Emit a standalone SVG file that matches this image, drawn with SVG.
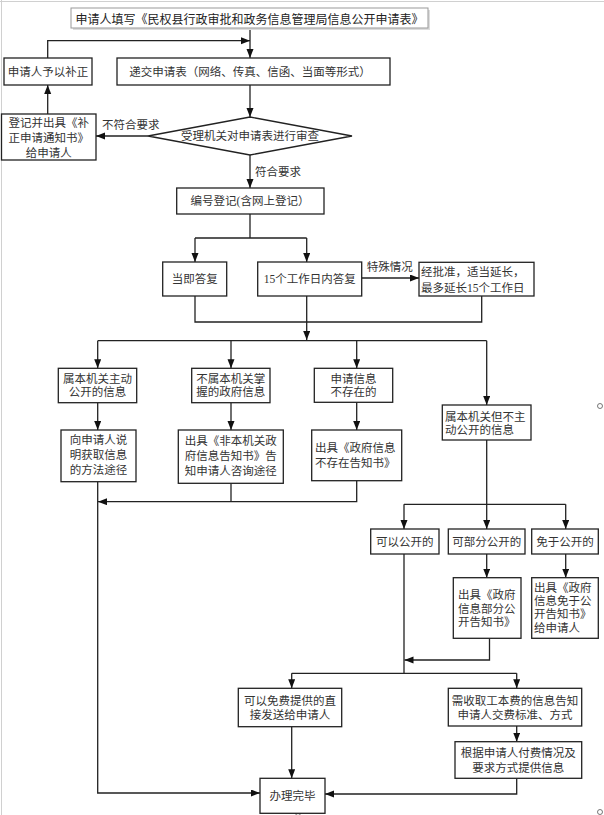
<svg xmlns="http://www.w3.org/2000/svg" width="604" height="815" viewBox="0 0 604 815">
<defs>
<marker id="ah" markerUnits="userSpaceOnUse" markerWidth="10" markerHeight="8" refX="9" refY="3.5" orient="auto">
<path d="M0,0 L9,3.5 L0,7 z" fill="#111"/>
</marker>
<style>
.b{fill:#fff;stroke:#222;stroke-width:1.3}
.t{font-family:"Liberation Serif","Noto Sans CJK SC",serif;font-size:11.5px;fill:#333;dominant-baseline:central}
.c{text-anchor:middle}
.l{fill:none;stroke:#222;stroke-width:1.3}
.a{fill:none;stroke:#222;stroke-width:1.3;marker-end:url(#ah)}
.h{fill:#fff;stroke:#555;stroke-width:0.8}
</style>
</defs>
<rect width="604" height="815" fill="#fff"/>
<g id="frame">
<path d="M1.5,0 V815 M0,1.5 H604" stroke="#d0d0d0" stroke-width="1" fill="none"/>
<circle class="h" cx="600" cy="406" r="2.5"/>
<circle class="h" cx="600" cy="812" r="2.5"/>
<circle class="h" cx="298" cy="813" r="2.5"/>
</g>
<g id="connectors">
<path class="a" d="M250,28 V58"/>
<path class="a" d="M47.7,58 V40.7 H250"/>
<path class="a" d="M250,85 V117"/>
<path class="a" d="M148,136 H96"/>
<path class="a" d="M47.7,114 V85"/>
<path class="a" d="M250,155 V188"/>
<path class="l" d="M250,214 V238 M195,238 H306.7"/>
<path class="a" d="M195,238 V262"/>
<path class="a" d="M306.7,238 V262"/>
<path class="a" d="M361.7,278 H419"/>
<path class="l" d="M195,296 V322 H481.7 V296"/>
<path class="a" d="M306.7,296 V340"/>
<path class="l" d="M97.7,340.7 H486.7"/>
<path class="a" d="M97.7,340.7 V368.3"/>
<path class="a" d="M231,340.7 V368.3"/>
<path class="a" d="M356.7,340.7 V368.3"/>
<path class="a" d="M486.7,340.7 V405"/>
<path class="a" d="M97.7,402.7 V430"/>
<path class="a" d="M231,402.7 V430"/>
<path class="a" d="M356.7,402.3 V430"/>
<path class="l" d="M231,483.3 V501.7"/>
<path class="a" d="M356.7,480.7 V501.7 H98"/>
<path class="a" d="M97.7,481.7 V793 H260"/>
<path class="a" d="M486.7,440 V529"/>
<path class="l" d="M404,504.3 H565.7"/>
<path class="a" d="M404,504.3 V529"/>
<path class="a" d="M565.7,504.3 V529"/>
<path class="a" d="M486.7,554 V577.7"/>
<path class="a" d="M565.7,554 V577.7"/>
<path class="l" d="M404,554 V673.3 M291.7,673.3 H516.7"/>
<path class="a" d="M291.7,673.3 V688.3"/>
<path class="a" d="M516.7,673.3 V688.3"/>
<path class="a" d="M489.5,638.3 V660 H404.5"/>
<path class="a" d="M516.7,726 V741.7"/>
<path class="a" d="M291.7,726.7 V778.3"/>
<path class="a" d="M516.7,778.3 V794 H325"/>
</g>
<g id="labels">
<text class="t" x="102" y="125">不符合要求</text>
<text class="t" x="255" y="172">符合要求</text>
<text class="t" x="366.7" y="267">特殊情况</text>
</g>
<g id="n-title">
<rect x="73" y="10" width="357" height="20" fill="#ddd" stroke="none"/>
<rect x="71" y="8" width="357" height="20" fill="#fff" stroke="#999" stroke-width="1"/>
<text x="249.5" y="18" class="c" font-family="'Noto Sans CJK SC',sans-serif" font-size="12" fill="#222" dominant-baseline="central">申请人填写《民权县行政审批和政务信息管理局信息公开申请表》</text>
</g>
<g id="n-buzheng">
<rect class="b" x="4" y="58" width="88" height="27"/>
<text class="t c" x="48" y="71.5">申请人予以补正</text>
</g>
<g id="n-dijiao">
<rect class="b" x="117" y="58" width="273" height="27"/>
<text class="t c" x="250" y="71.5">递交申请表（网络、传真、信函、当面等形式）</text>
</g>
<g id="n-shencha">
<polygon class="b" points="250,117 352,136 250,155 148,136"/>
<text class="t c" x="250" y="136">受理机关对申请表进行审查</text>
</g>
<g id="n-dengji">
<rect class="b" x="1.5" y="114" width="94.5" height="46"/>
<text class="t c" x="48.7" y="122.5">登记并出具《补</text>
<text class="t c" x="48.7" y="138">正申请通知书》</text>
<text class="t c" x="48.7" y="153">给申请人</text>
</g>
<g id="n-bianhao">
<rect class="b" x="176.7" y="188" width="147.3" height="26"/>
<text class="t c" x="250" y="201">编号登记(含网上登记）</text>
</g>
<g id="n-dangji">
<rect class="b" x="162.7" y="262" width="64" height="34"/>
<text class="t c" x="194.7" y="279">当即答复</text>
</g>
<g id="n-15">
<rect class="b" x="257.7" y="262" width="104" height="34"/>
<text class="t c" x="309.7" y="279">15个工作日内答复</text>
</g>
<g id="n-yanchang">
<rect class="b" x="419" y="262.3" width="115" height="33.7"/>
<text class="t" x="421" y="272">经批准，适当延长，</text>
<text class="t" x="421" y="288">最多延长15个工作日</text>
</g>
<g id="n-zhudong">
<rect class="b" x="58.3" y="368.3" width="78.4" height="34.4"/>
<text class="t c" x="97.5" y="378.5">属本机关主动</text>
<text class="t c" x="97.5" y="392">公开的信息</text>
</g>
<g id="n-bushu">
<rect class="b" x="191.7" y="368.3" width="78.3" height="34.4"/>
<text class="t c" x="230.8" y="378.5">不属本机关掌</text>
<text class="t c" x="230.8" y="392">握的政府信息</text>
</g>
<g id="n-bucunzai">
<rect class="b" x="314.3" y="368.3" width="78.4" height="34"/>
<text class="t c" x="353.5" y="378.5">申请信息</text>
<text class="t c" x="353.5" y="392">不存在的</text>
</g>
<g id="n-buzhudong">
<rect class="b" x="442.3" y="405" width="88.7" height="35"/>
<text class="t" x="445" y="416.5">属本机关但不主</text>
<text class="t" x="445" y="430">动公开的信息</text>
</g>
<g id="n-tujing">
<rect class="b" x="61" y="430" width="75" height="51.7"/>
<text class="t c" x="98.5" y="440">向申请人说</text>
<text class="t c" x="98.5" y="455">明获取信息</text>
<text class="t c" x="98.5" y="470">的方法途径</text>
</g>
<g id="n-feiben">
<rect class="b" x="178.3" y="430" width="105" height="53.3"/>
<text class="t c" x="230.8" y="441">出具《非本机关政</text>
<text class="t c" x="230.8" y="456">府信息告知书》告</text>
<text class="t c" x="230.8" y="471">知申请人咨询途径</text>
</g>
<g id="n-bucunzaishu">
<rect class="b" x="311.7" y="430" width="90" height="50.7"/>
<text class="t" x="315" y="448">出具《政府信息</text>
<text class="t" x="315" y="462.5">不存在告知书》</text>
</g>
<g id="n-keyi">
<rect class="b" x="370.7" y="529" width="68.3" height="25"/>
<text class="t c" x="404.8" y="541.5">可以公开的</text>
</g>
<g id="n-bufen">
<rect class="b" x="448.3" y="529" width="76.7" height="25"/>
<text class="t c" x="486.7" y="541.5">可部分公开的</text>
</g>
<g id="n-mianyu">
<rect class="b" x="531.7" y="529" width="66.6" height="25"/>
<text class="t c" x="565" y="541.5">免于公开的</text>
</g>
<g id="n-bufenshu">
<rect class="b" x="453.3" y="577.7" width="67.7" height="60.6"/>
<text class="t" x="458" y="595">出具《政府</text>
<text class="t" x="458" y="608.5">信息部分公</text>
<text class="t" x="458" y="622">开告知书》</text>
</g>
<g id="n-mianyushu">
<rect class="b" x="531.7" y="577.7" width="66.6" height="60.6"/>
<text class="t" x="534" y="588">出具《政府</text>
<text class="t" x="534" y="601">信息免于公</text>
<text class="t" x="534" y="614">开告知书》</text>
<text class="t" x="534" y="627.5">给申请人</text>
</g>
<g id="n-mianfei">
<rect class="b" x="238.3" y="688.3" width="103.4" height="38.4"/>
<text class="t c" x="290" y="701">可以免费提供的直</text>
<text class="t c" x="290" y="715">接发送给申请人</text>
</g>
<g id="n-gongben">
<rect class="b" x="448.3" y="688.3" width="133.4" height="37.7"/>
<text class="t c" x="515" y="701">需收取工本费的信息告知</text>
<text class="t c" x="515" y="715">申请人交费标准、方式</text>
</g>
<g id="n-fufei">
<rect class="b" x="455" y="741.7" width="126.7" height="36.6"/>
<text class="t c" x="518.3" y="752.5">根据申请人付费情况及</text>
<text class="t c" x="518.3" y="767.5">要求方式提供信息</text>
</g>
<g id="n-wanbi">
<rect class="b" x="260" y="778.3" width="65" height="35"/>
<text class="t c" x="292.5" y="795.5">办理完毕</text>
</g>
</svg>
